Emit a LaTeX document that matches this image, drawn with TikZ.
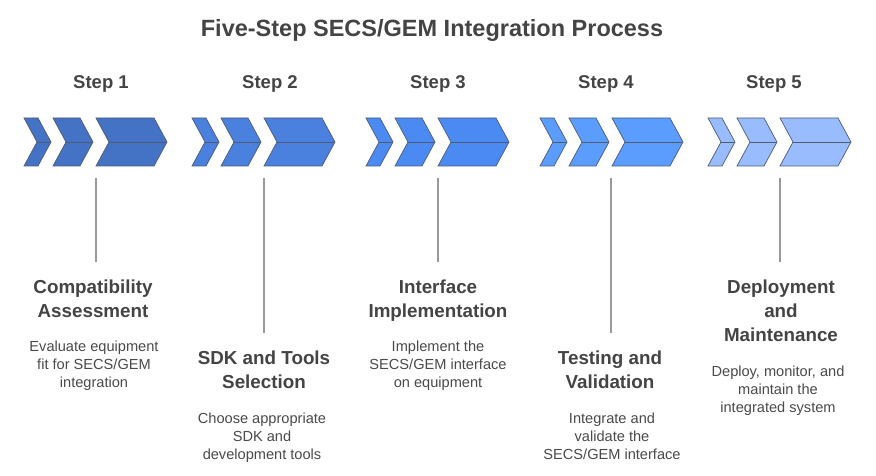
\documentclass[tikz,border=0pt]{standalone}
\usepackage{fontspec}
\setmainfont{Liberation Sans}
\definecolor{txt}{HTML}{444444}
\definecolor{desc}{HTML}{4A4A4A}
\definecolor{chevline}{HTML}{4F5B70}
\definecolor{cA}{RGB}{68,114,196}
\definecolor{cB}{RGB}{74,128,222}
\definecolor{cC}{RGB}{74,138,242}
\definecolor{cD}{RGB}{90,156,255}
\definecolor{cE}{RGB}{152,188,255}
\definecolor{vline}{HTML}{9A9A9A}
\tikzset{
  chevshape/.style={draw=chevline, line width=0.7pt, line join=miter},
  steplabel/.style={font=\fontsize{18.5}{20}\selectfont\bfseries, text=txt},
  headtext/.style={font=\fontsize{18.8}{24}\selectfont\bfseries, text=txt, align=center, anchor=north, inner sep=0pt},
  desctext/.style={font=\fontsize{14.6}{18}\selectfont, text=desc, align=center, anchor=north, inner sep=0pt},
  stem/.style={draw=vline, line width=1.3pt},
}
\newcommand\onechev[3]{%
  \filldraw[chevshape, fill=#3] (#1,118) -- ++(#2,0) -- ++(13,24) -- ++(-13,24) -- ++(-#2,0) -- ++(13,-24) -- cycle;
  \draw[chevshape] ({#1+13},142) -- ++(#2,0);
}
\newcommand\chevgroup[2]{%
  \onechev{#1}{14}{#2}
  \onechev{#1+29}{27}{#2}
  \onechev{#1+72}{58}{#2}
}
\begin{document}
\begin{tikzpicture}[x=1pt,y=-1pt]
\useasboundingbox (0,0) rectangle (876,476);
\fill[white] (0,0) rectangle (876,476);
\node[font=\fontsize{23.5}{26}\selectfont\bfseries, text=txt] (title) at (432,30) {Five-Step SECS/GEM Integration Process};

\node[steplabel] (s1) at (101,84) {Step 1};
\node[steplabel] (s2) at (270,84) {Step 2};
\node[steplabel] (s3) at (438,84) {Step 3};
\node[steplabel] (s4) at (606,84) {Step 4};
\node[steplabel] (s5) at (774,84) {Step 5};

\chevgroup{24}{cA}
\chevgroup{192}{cB}
\chevgroup{366}{cC}
\chevgroup{540}{cD}
\chevgroup{708}{cE}

\coordinate (t1) at (96,178);  \coordinate (b1) at (96,262);
\coordinate (t2) at (264,178); \coordinate (b2) at (264,333);
\coordinate (t3) at (438,178); \coordinate (b3) at (438,262);
\coordinate (t4) at (611,178); \coordinate (b4) at (611,333);
\coordinate (t5) at (780,178); \coordinate (b5) at (780,262);
\foreach \i in {1,...,5} {\draw[stem] (t\i) -- (b\i);}

\node[headtext] (h1) at (93,280) {Compatibility\\Assessment};
\node[desctext] (d1) at (94,341) {Evaluate equipment\\fit for SECS/GEM\\integration};

\node[headtext] (h2) at (264,351) {SDK and Tools\\Selection};
\node[desctext] (d2) at (262,413) {Choose appropriate\\SDK and\\development tools};

\node[headtext] (h3) at (438,280) {Interface\\Implementation};
\node[desctext] (d3) at (438,341) {Implement the\\SECS/GEM interface\\on equipment};

\node[headtext] (h4) at (610,351) {Testing and\\Validation};
\node[desctext] (d4) at (612,413) {Integrate and\\validate the\\SECS/GEM interface};

\node[headtext] (h5) at (781,280) {Deployment\\and\\Maintenance};
\node[desctext] (d5) at (778,366) {Deploy, monitor, and\\maintain the\\integrated system};
\end{tikzpicture}
\end{document}
